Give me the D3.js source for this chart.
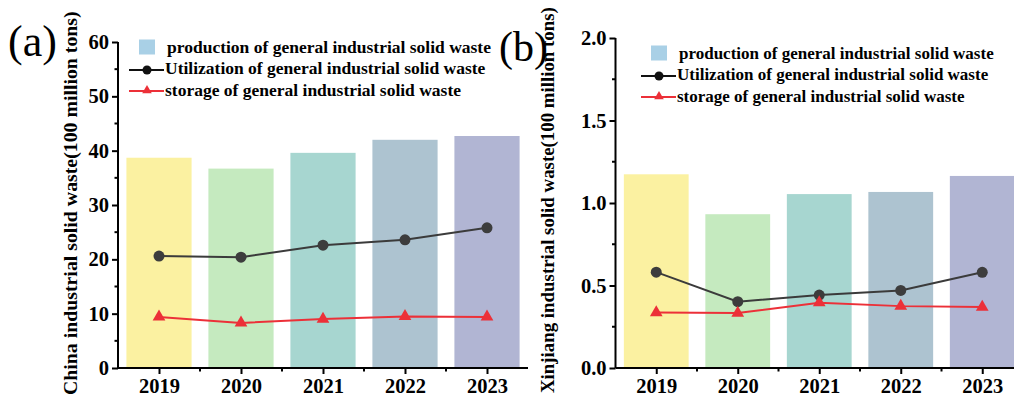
<!DOCTYPE html>
<html>
<head>
<meta charset="utf-8">
<script src="https://cdn.jsdelivr.net/npm/d3@7"></script>
<style>
  html, body { margin: 0; padding: 0; background: #fff; }
  svg { display: block; }
  text { font-family: "Liberation Serif", "Times New Roman", serif; }
</style>
</head>
<body>
<svg id="chart" width="1014" height="396"></svg>
<script>
// Years on the category axis
const years = ["2019", "2020", "2021", "2022", "2023"];

// China (100 million tons)
const chinaProduction  = [38.7, 36.7, 39.6, 42.0, 42.7];
const chinaUtilization = [20.6, 20.4, 22.6, 23.6, 25.8];
const chinaStorage     = [9.4, 8.3, 9.0, 9.5, 9.4];
const chinaTicks       = [0, 10, 20, 30, 40, 50, 60];

// Xinjiang (100 million tons)
const xjProduction  = [1.174, 0.932, 1.054, 1.067, 1.164];
const xjUtilization = [0.581, 0.402, 0.442, 0.470, 0.580];
const xjStorage     = [0.336, 0.333, 0.396, 0.375, 0.369];
const xjTicks       = [0, 0.5, 1.0, 1.5, 2.0];

const barColors = ["#fbf1a1", "#c5eabf", "#a7d6d0", "#adc3d0", "#b1b5d3"];
const legendLabels = [
  "production of general industrial solid waste",
  "Utilization of general industrial solid waste",
  "storage of general industrial solid waste"
];

const svg = d3.select("#chart");

function panel(opt) {
  const g = svg.append("g");
  const x = d3.scalePoint().domain(years).range([opt.x0, opt.x1]).padding(0.5);
  const step = x.step();
  const barW = step * 0.795;
  const y = d3.scaleLinear().domain([0, opt.ymax]).range([opt.y0, opt.y1]);

  // bars
  g.selectAll("rect.bar").data(opt.production).join("rect")
    .attr("class", "bar")
    .attr("x", (d, i) => x(years[i]) - barW / 2)
    .attr("width", barW)
    .attr("y", d => y(d))
    .attr("height", d => y(0) - y(d))
    .attr("fill", (d, i) => barColors[i]);

  // utilization line
  const line = d3.line().x((d, i) => x(years[i])).y(d => y(d));
  g.append("path").datum(opt.utilization)
    .attr("d", line).attr("fill", "none")
    .attr("stroke", "#3b3b3b").attr("stroke-width", 2);
  g.selectAll("circle.u").data(opt.utilization).join("circle")
    .attr("class", "u")
    .attr("cx", (d, i) => x(years[i])).attr("cy", d => y(d))
    .attr("r", 5.5).attr("fill", "#3d3d3d");

  // storage line
  g.append("path").datum(opt.storage)
    .attr("d", line).attr("fill", "none")
    .attr("stroke", "#ec3038").attr("stroke-width", 2);
  const tri = d3.symbol().type(d3.symbolTriangle).size(70);
  g.selectAll("path.s").data(opt.storage).join("path")
    .attr("class", "s")
    .attr("transform", (d, i) => `translate(${x(years[i])},${y(d)})`)
    .attr("d", tri).attr("fill", "#ec3038");

  // y axis with minor ticks
  const minor = [];
  for (let i = 0; i < opt.ticks.length - 1; i++) minor.push((opt.ticks[i] + opt.ticks[i + 1]) / 2);
  const yAxis = g.append("g").attr("transform", `translate(${opt.x0},0)`);
  yAxis.call(d3.axisLeft(y).tickValues(opt.ticks).tickFormat(opt.fmt).tickSize(6).tickPadding(3));
  yAxis.append("g").selectAll("line").data(minor).join("line")
    .attr("x1", 0).attr("x2", -3.5).attr("y1", d => y(d)).attr("y2", d => y(d))
    .attr("stroke", "#000").attr("stroke-width", 2);
  yAxis.select(".domain").attr("d", `M0,${opt.y0}V${opt.y1}`).attr("stroke-width", 2);
  yAxis.selectAll(".tick line").attr("stroke-width", 2);
  yAxis.selectAll(".tick text")
    .attr("font-family", "Liberation Serif").attr("font-weight", "bold")
    .attr("font-size", 20.5).attr("fill", "#000");

  // x axis with ticks at categories and minor ticks between them
  const xAxis = g.append("g").attr("transform", `translate(0,${opt.y0})`);
  xAxis.call(d3.axisBottom(x).tickSize(6).tickPadding(4));
  xAxis.select(".domain").attr("d", `M${opt.x0},0H${opt.x1}`).attr("stroke-width", 2);
  xAxis.selectAll(".tick line").attr("stroke-width", 2);
  xAxis.selectAll(".tick text")
    .attr("font-family", "Liberation Serif").attr("font-weight", "bold")
    .attr("font-size", 20.5).attr("fill", "#000");
  const bounds = years.slice(1).map(yr => x(yr) - step / 2);
  xAxis.append("g").selectAll("line").data(bounds).join("line")
    .attr("x1", d => d).attr("x2", d => d).attr("y1", 0).attr("y2", 3.5)
    .attr("stroke", "#000").attr("stroke-width", 2);

  // y axis title, sized to run along the full height
  const title = g.append("text")
    .attr("transform", `translate(${opt.titleX},${opt.titleY}) rotate(-90)`)
    .attr("text-anchor", "start")
    .attr("font-weight", "bold").attr("font-size", 20)
    .text(opt.title);
  const len = title.node().getComputedTextLength();
  title.attr("font-size", 20 * opt.titleSpan / len);

  // panel letter
  g.append("text")
    .attr("x", opt.letterX).attr("y", opt.letterY)
    .attr("font-size", opt.letterSize)
    .text(opt.letter);

  // legend
  const lg = g.append("g").attr("transform", `translate(${opt.legX},${opt.legY})`);
  lg.append("rect").attr("x", -8).attr("y", -7.5).attr("width", 16).attr("height", 15)
    .attr("fill", "#a9d0e6");
  lg.append("line").attr("x1", -18).attr("x2", 17).attr("y1", 23).attr("y2", 23)
    .attr("stroke", "#111").attr("stroke-width", 2);
  lg.append("circle").attr("cx", 0).attr("cy", 23).attr("r", 4.5).attr("fill", "#111");
  lg.append("line").attr("x1", -18).attr("x2", 17).attr("y1", 44).attr("y2", 44)
    .attr("stroke", "#ec3038").attr("stroke-width", 2);
  lg.append("path").attr("transform", "translate(0,43.5)")
    .attr("d", d3.symbol().type(d3.symbolTriangle).size(40)).attr("fill", "#ec3038");
  lg.selectAll("text.lab").data(legendLabels).join("text")
    .attr("class", "lab")
    .attr("x", (d, i) => i === 0 ? 20 : 18)
    .attr("y", (d, i) => i * 21.5 + 5.5)
    .attr("font-weight", "bold").attr("font-size", opt.legSize)
    .text(d => d);
}

panel({
  x0: 118, x1: 528, y0: 368, y1: 42, ymax: 60,
  ticks: chinaTicks, fmt: d3.format("d"),
  production: chinaProduction, utilization: chinaUtilization, storage: chinaStorage,
  title: "China industrial solid waste(100 million tons)",
  titleX: 77, titleY: 395, titleSpan: 384,
  letter: "(a)", letterX: 8, letterY: 56, letterSize: 44,
  legX: 147, legY: 47, legSize: 17.5
});

panel({
  x0: 615.5, x1: 1023, y0: 368, y1: 38, ymax: 2,
  ticks: xjTicks, fmt: d3.format(".1f"),
  production: xjProduction, utilization: xjUtilization, storage: xjStorage,
  title: "Xinjiang industrial solid waste(100 million tons)",
  titleX: 554, titleY: 393, titleSpan: 386,
  letter: "(b)", letterX: 499, letterY: 61, letterSize: 42,
  legX: 659, legY: 53, legSize: 17
});
</script>
</body>
</html>
